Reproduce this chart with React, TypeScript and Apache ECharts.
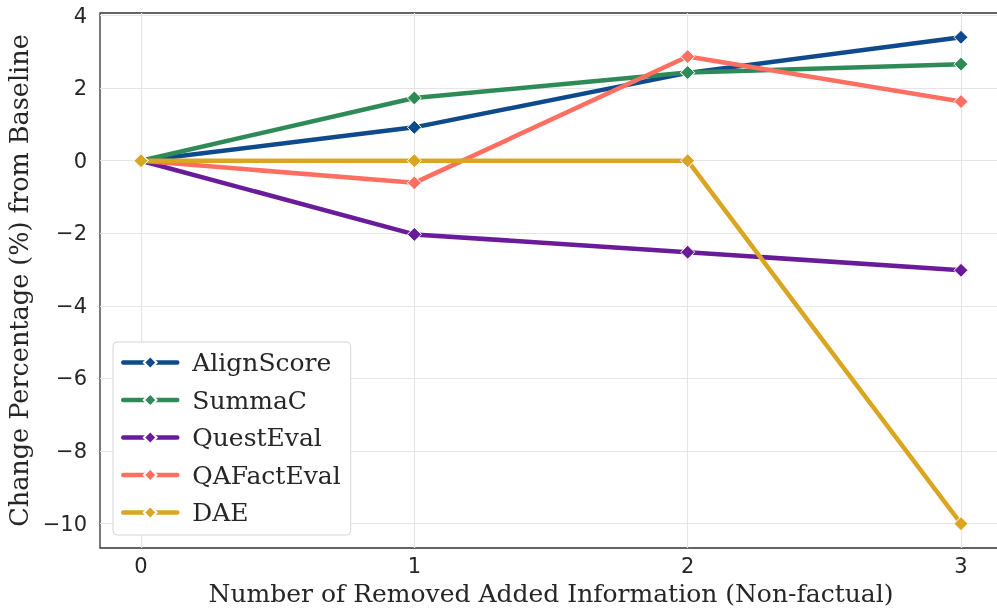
import React, { useEffect, useRef } from "react";
import * as echarts from "echarts";

const xValues = [0, 1, 2, 3];
const xTicks = [0, 1, 2, 3];
const yTicks = [-10, -8, -6, -4, -2, 0, 2, 4];
const seriesNames = ["AlignScore", "SummaC", "QuestEval", "QAFactEval", "DAE"];
const alignScore = [0, 0.92, 2.42, 3.4];
const summaC = [0, 1.73, 2.43, 2.66];
const questEval = [0, -2.03, -2.52, -3.02];
const qaFactEval = [0, -0.61, 2.87, 1.63];
const dae = [0, 0, 0, -10];
const colors = ["#0E4A8C", "#2E8B57", "#6A1B9A", "#FF6F61", "#DAA520"];

export default function App() {
  const ref = useRef<HTMLDivElement>(null);
  useEffect(() => {
    if (!ref.current) return;
    const chart = echarts.init(ref.current, undefined, { renderer: "svg" });
    const all = [alignScore, summaC, questEval, qaFactEval, dae];
    const serif = "DejaVu Serif";
    chart.setOption({
      animation: false,
      grid: {
        left: 100,
        right: -5,
        top: 13,
        bottom: 61,
        show: true,
        borderColor: "#333",
        borderWidth: 1.3,
        backgroundColor: "#fff",
        outerBoundsMode: "none",
        containLabel: false,
      },
      legend: {
        orient: "vertical",
        left: 113,
        top: 342,
        padding: [8, 10, 10, 8],
        itemWidth: 54,
        itemHeight: 16,
        itemGap: 12.5,
        backgroundColor: "#fff",
        borderColor: "#d6d6d6",
        borderWidth: 1,
        borderRadius: 4,
        lineStyle: { width: 4.5, cap: "round" },
        textStyle: { fontFamily: serif, fontSize: 25, color: "#262626", padding: [0, 0, 0, 10] },
        data: seriesNames,
      },
      xAxis: {
        type: "value",
        min: -0.15,
        max: 3.15,
        name: "Number of Removed Added Information (Non-factual)",
        nameLocation: "middle",
        nameGap: 33,
        nameTextStyle: { fontFamily: serif, fontSize: 25, color: "#262626" },
        axisLine: { show: false },
        axisTick: { show: false, customValues: xTicks },
        axisLabel: {
          customValues: xTicks,
          fontFamily: "DejaVu Sans",
          fontSize: 21,
          color: "#262626",
          margin: 7,
        },
        splitLine: { show: true, lineStyle: { color: "#e5e5e5", width: 1.2 } },
      },
      yAxis: {
        type: "value",
        min: -10.67,
        max: 4.07,
        name: "Change Percentage (%) from Baseline",
        nameLocation: "middle",
        nameGap: 65,
        nameTextStyle: { fontFamily: serif, fontSize: 25.5, color: "#262626" },
        axisLine: { show: false },
        axisTick: { show: false, customValues: yTicks },
        axisLabel: {
          customValues: yTicks,
          fontFamily: "DejaVu Sans",
          fontSize: 21,
          color: "#262626",
          margin: 13,
          formatter: (v: number) => (v < 0 ? "\u2212" + Math.abs(v) : String(v)),
        },
        splitLine: { show: true, lineStyle: { color: "#e5e5e5", width: 1.2 } },
      },
      series: seriesNames.map((name, i) => ({
        name,
        type: "line",
        data: xValues.map((x, j) => [x, all[i][j]]),
        symbol: "diamond",
        symbolSize: 14,
        showAllSymbol: true,
        lineStyle: { color: colors[i], width: 4.5 },
        itemStyle: { color: colors[i], borderColor: "#fff", borderWidth: 1 },
        emphasis: { disabled: true },
      })),
    });
    return () => chart.dispose();
  }, []);
  return <div ref={ref} style={{ position: "fixed", left: 0, top: 0, width: 997, height: 609 }} />;
}
